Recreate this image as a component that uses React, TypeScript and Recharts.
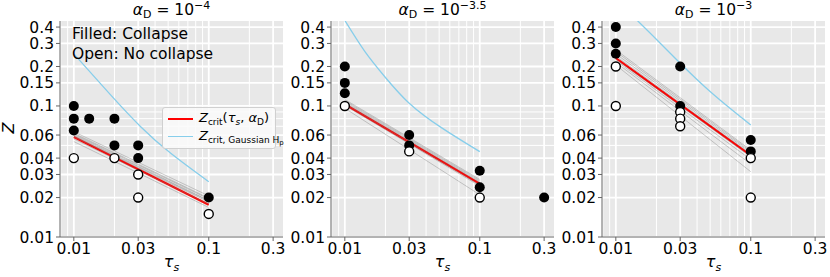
import React from "react";
import { ComposedChart, Line, Scatter, XAxis, YAxis } from "recharts";

type Pt = [number, number];

const tauTicks = [0.01, 0.03, 0.1, 0.3];
const tauMinor = [0.008, 0.009, 0.02, 0.04, 0.05, 0.06, 0.07, 0.08, 0.09, 0.2];
const zTicks = [0.01, 0.02, 0.03, 0.04, 0.06, 0.1, 0.15, 0.2, 0.3, 0.4];
const zMinor = [0.05, 0.07, 0.08, 0.09];
const tauEnds = [0.01, 0.1];

// alpha_D = 1e-4
const collapse4: Pt[] = [[0.01, 0.1], [0.01, 0.08], [0.01, 0.065], [0.013, 0.08], [0.02, 0.08], [0.02, 0.05], [0.03, 0.05], [0.03, 0.04], [0.1, 0.02]];
const noCollapse4: Pt[] = [[0.01, 0.04], [0.02, 0.04], [0.03, 0.03], [0.03, 0.02], [0.1, 0.015]];
const crit4: Pt[] = [[0.01, 0.058], [0.1, 0.0176]];
const spreadStart4 = [0.0535, 0.056, 0.058, 0.06, 0.062, 0.0636, 0.059, 0.061];
const spreadEnd4 = [0.0168, 0.0178, 0.0185, 0.019, 0.0198, 0.0206, 0.0188, 0.0195];
const gauss4: Pt[] = [[0.01, 0.25], [0.0188, 0.121], [0.0313, 0.0695], [0.0523, 0.0435], [0.1, 0.0264]];

// alpha_D = 1e-3.5
const collapse35: Pt[] = [[0.01, 0.2], [0.01, 0.15], [0.01, 0.125], [0.03, 0.06], [0.03, 0.05], [0.1, 0.032], [0.1, 0.024], [0.3, 0.02]];
const noCollapse35: Pt[] = [[0.01, 0.1], [0.03, 0.045], [0.1, 0.02]];
const crit35: Pt[] = [[0.01, 0.103], [0.1, 0.0255]];
const spreadStart35 = [0.096, 0.101, 0.104, 0.106, 0.108, 0.11, 0.112];
const spreadEnd35 = [0.021, 0.0245, 0.025, 0.026, 0.0265, 0.027, 0.0275];
const gauss35: Pt[] = [[0.01, 0.45], [0.0141, 0.26], [0.02, 0.165], [0.03, 0.105], [0.0523, 0.068], [0.1, 0.0448]];

// alpha_D = 1e-3
const collapse3: Pt[] = [[0.01, 0.4], [0.01, 0.3], [0.01, 0.25], [0.03, 0.2], [0.03, 0.1], [0.1, 0.055], [0.1, 0.045]];
const noCollapse3: Pt[] = [[0.01, 0.2], [0.01, 0.1], [0.03, 0.09], [0.03, 0.08], [0.03, 0.07], [0.1, 0.04], [0.1, 0.02]];
const crit3: Pt[] = [[0.01, 0.232], [0.1, 0.042]];
const spreadStart3 = [0.205, 0.215, 0.222, 0.228, 0.24, 0.25, 0.26, 0.268];
const spreadEnd3 = [0.0315, 0.036, 0.039, 0.041, 0.043, 0.044, 0.045, 0.046];
const gauss3: Pt[] = [[0.0144, 0.45], [0.0202, 0.319], [0.03, 0.212], [0.0517, 0.125], [0.1, 0.0716]];

const TAU_DOMAIN = [0.0079, 0.355];
const Z_DOMAIN = [0.01, 0.445];

const pts = (a: Pt[]) => a.map(([x, y]) => ({ x, y }));
const spread = (s: number[], e: number[]) =>
  s.map((v, i) => [{ x: tauEnds[0], y: v }, { x: tauEnds[1], y: e[i] }]);
// grid lines run across the whole axis range
const vGrid = (v: number) => [{ x: v, y: Z_DOMAIN[0] }, { x: v, y: Z_DOMAIN[1] }];
const hGrid = (v: number) => [{ x: TAU_DOMAIN[0], y: v }, { x: TAU_DOMAIN[1], y: v }];

const FONT = "'DejaVu Sans', sans-serif";
const W = 290;
const H = 277;
const PLOT_L = 60;
const PLOT_T = 21;
const PLOT_W = 223;
const PLOT_H = 216;

const fmt = (v: number) => String(v);

const filled = (p: any) => <circle cx={p.cx} cy={p.cy} r={5} fill="#000" />;
const open = (p: any) => <circle cx={p.cx} cy={p.cy} r={4.5} fill="#fff" stroke="#000" strokeWidth={1.4} />;

function gridLine(key: string, data: { x: number; y: number }[], w: number) {
  return <Line key={key} data={data} dataKey="y" stroke="#ffffff" strokeWidth={w} dot={false} activeDot={false} isAnimationActive={false} />;
}

function Panel(props: {
  left: number;
  expo: string;
  collapse: Pt[];
  noCollapse: Pt[];
  crit: Pt[];
  sStart: number[];
  sEnd: number[];
  gauss: Pt[];
}) {
  const { left, expo } = props;
  return (
    <div style={{ position: "absolute", left, top: 0, width: W, height: H }}>
      <div style={{ position: "absolute", left: PLOT_L, top: PLOT_T, width: PLOT_W, height: PLOT_H, background: "#E8E8E8" }} />
      <div style={{ position: "absolute", left: 0, top: 0 }}>
        <ComposedChart width={W} height={H} margin={{ top: PLOT_T, right: W - PLOT_L - PLOT_W, bottom: 0, left: 0 }}>
          <XAxis
            dataKey="x"
            type="number"
            scale="log"
            domain={TAU_DOMAIN}
            allowDataOverflow
            ticks={tauTicks}
            interval={0}
            tickFormatter={fmt}
            tick={{ fill: "#000", fontSize: 15.5, fontFamily: FONT }}
            tickSize={4}
            tickMargin={2}
            stroke="#666"
            height={40}
          />
          <YAxis
            dataKey="y"
            type="number"
            scale="log"
            domain={Z_DOMAIN}
            allowDataOverflow
            ticks={zTicks}
            interval={0}
            tickFormatter={fmt}
            tick={{ fill: "#000", fontSize: 15.5, fontFamily: FONT }}
            tickSize={4}
            tickMargin={2}
            stroke="#666"
            width={PLOT_L}
          />
          <XAxis xAxisId="top" orientation="top" type="number" scale="log" domain={TAU_DOMAIN} allowDataOverflow height={0} tick={false} tickLine={false} stroke="#666" />
          <YAxis yAxisId="right" orientation="right" type="number" scale="log" domain={Z_DOMAIN} allowDataOverflow width={0} tick={false} tickLine={false} stroke="#666" />
          {tauMinor.map((v) => gridLine("xm" + v, vGrid(v), 1))}
          {zMinor.map((v) => gridLine("ym" + v, hGrid(v), 1))}
          {tauTicks.map((v) => gridLine("x" + v, vGrid(v), 1.8))}
          {zTicks.map((v) => gridLine("y" + v, hGrid(v), 1.8))}
          <Line data={pts(props.crit)} dataKey="y" stroke="#ff0000" strokeWidth={2.2} dot={false} isAnimationActive={false} />
          {spread(props.sStart, props.sEnd).map((d, i) => (
            <Line key={i} data={d} dataKey="y" stroke="#808080" strokeOpacity={0.4} strokeWidth={1} dot={false} isAnimationActive={false} />
          ))}
          <Line data={pts(props.gauss)} dataKey="y" type="natural" stroke="#87CEEB" strokeWidth={1.3} dot={false} isAnimationActive={false} />
          <Scatter data={pts(props.collapse)} dataKey="y" shape={filled} isAnimationActive={false} />
          <Scatter data={pts(props.noCollapse)} dataKey="y" shape={open} isAnimationActive={false} />
        </ComposedChart>
      </div>
      <div style={{ position: "absolute", left: PLOT_L, width: PLOT_W, top: 1, textAlign: "center", fontSize: 15.5, lineHeight: "18px", fontFamily: FONT, whiteSpace: "nowrap" }}>
        <i>α</i>
        <span style={{ fontSize: 11, position: "relative", top: 3 }}>D</span>
        {" = 10"}
        <span style={{ fontSize: 11, position: "relative", top: -6 }}>{expo}</span>
      </div>
      <div style={{ position: "absolute", left: PLOT_L, width: PLOT_W, top: 253, textAlign: "center", fontSize: 16, lineHeight: "18px", fontFamily: FONT }}>
        <i>τ</i>
        <i style={{ fontSize: 11, position: "relative", top: 4 }}>s</i>
      </div>
    </div>
  );
}

export default function App() {
  return (
    <div style={{ position: "absolute", left: 0, top: 0, width: 830, height: 277, background: "#fff", overflow: "hidden", fontFamily: FONT }}>
      <Panel left={0} expo="−4" collapse={collapse4} noCollapse={noCollapse4} crit={crit4} sStart={spreadStart4} sEnd={spreadEnd4} gauss={gauss4} />
      <Panel left={271} expo="−3.5" collapse={collapse35} noCollapse={noCollapse35} crit={crit35} sStart={spreadStart35} sEnd={spreadEnd35} gauss={gauss35} />
      <Panel left={542} expo="−3" collapse={collapse3} noCollapse={noCollapse3} crit={crit3} sStart={spreadStart3} sEnd={spreadEnd3} gauss={gauss3} />
      <div style={{ position: "absolute", left: 0, top: 119, width: 18, height: 18, fontSize: 16, lineHeight: "18px", textAlign: "center", transform: "rotate(-90deg)" }}>
        <i>Z</i>
      </div>
      <div style={{ position: "absolute", left: 72, top: 24, fontSize: 15.5, lineHeight: "20px", whiteSpace: "nowrap" }}>
        <div>Filled: Collapse</div>
        <div>Open: No collapse</div>
      </div>
      <div style={{ position: "absolute", left: 162, top: 107, width: 112, height: 40, background: "rgba(250,250,250,0.85)", border: "1px solid #d0d0d0", borderRadius: 3, fontSize: 13, whiteSpace: "nowrap" }}>
        <div style={{ position: "absolute", left: 5, top: 10, width: 25, height: 2.2, background: "#ff0000" }} />
        <div style={{ position: "absolute", left: 36, top: 2, lineHeight: "16px" }}>
          <i>Z</i>
          <span style={{ fontSize: 9, position: "relative", top: 3 }}>crit</span>
          (<i>τ</i>
          <i style={{ fontSize: 9, position: "relative", top: 3 }}>s</i>, <i>α</i>
          <span style={{ fontSize: 9, position: "relative", top: 3 }}>D</span>)
        </div>
        <div style={{ position: "absolute", left: 5, top: 28, width: 25, height: 1.3, background: "#87CEEB" }} />
        <div style={{ position: "absolute", left: 36, top: 20, lineHeight: "16px" }}>
          <i>Z</i>
          <span style={{ fontSize: 9, position: "relative", top: 3 }}>
            crit, Gaussian H<span style={{ fontSize: 7, position: "relative", top: 2 }}>p</span>
          </span>
        </div>
      </div>
    </div>
  );
}
